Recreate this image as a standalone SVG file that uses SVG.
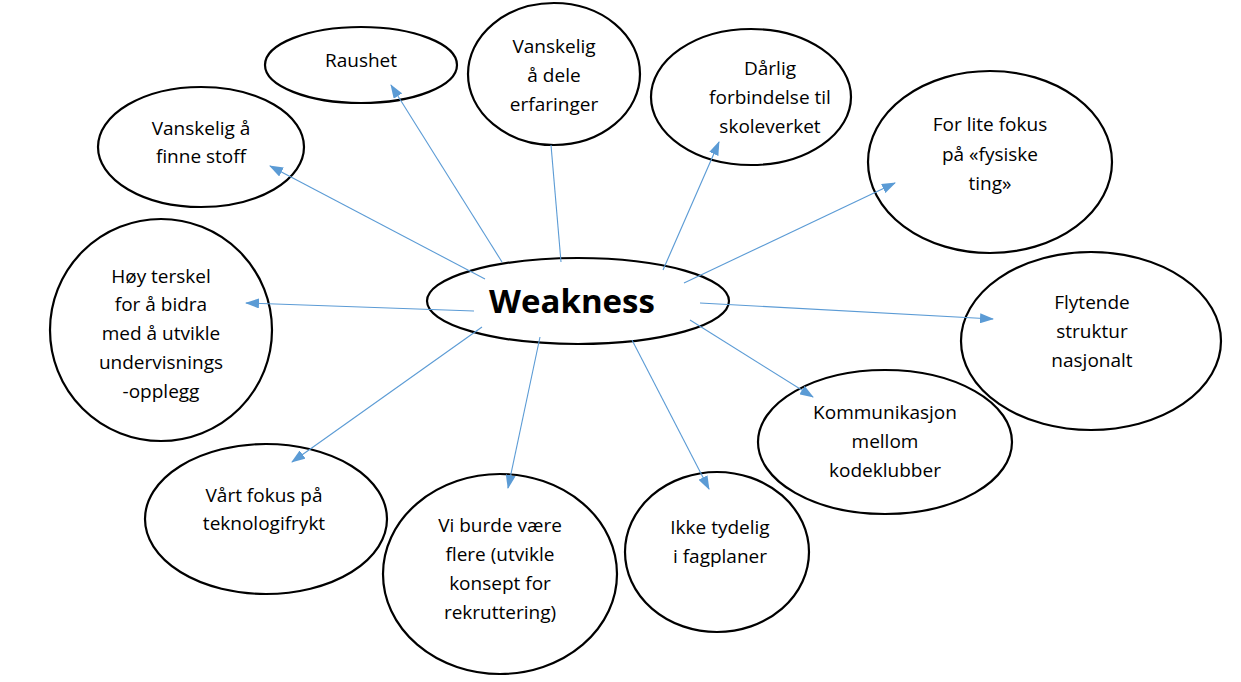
<svg xmlns="http://www.w3.org/2000/svg" width="1241" height="682" viewBox="0 0 1241 682">
<defs>
<style>
.n{fill:#fff;stroke:#000;stroke-width:2.2}
.t{font-family:"Open Sans","Liberation Sans",sans-serif;font-size:19px;fill:#000;text-anchor:middle}
.w{font-family:"Open Sans","Liberation Sans",sans-serif;font-size:33px;font-weight:bold;fill:#000;text-anchor:middle}
.c{stroke:#5B9BD5;stroke-width:1.1;fill:none}
</style>
<marker id="ah" viewBox="0 0 14 10" refX="13" refY="5" markerWidth="14" markerHeight="10" markerUnits="userSpaceOnUse" orient="auto">
<path d="M0,0 L14,5 L0,10 z" fill="#5B9BD5"/>
</marker>
</defs>
<rect width="1241" height="682" fill="#fff"/>
<g id="n-raushet"><ellipse class="n" cx="361" cy="65" rx="96" ry="38"/><text class="t" x="361" y="67">Raushet</text></g>
<g id="n-dele"><ellipse class="n" cx="554" cy="74" rx="86" ry="71"/><text class="t"><tspan x="554" y="53">Vanskelig</tspan><tspan x="554" y="82">å dele</tspan><tspan x="554" y="111">erfaringer</tspan></text></g>
<g id="n-darlig"><ellipse class="n" cx="751" cy="97" rx="100" ry="68"/><text class="t"><tspan x="770" y="75">Dårlig</tspan><tspan x="770" y="104">forbindelse til</tspan><tspan x="770" y="133">skoleverket</tspan></text></g>
<g id="n-fokus"><ellipse class="n" cx="990" cy="162" rx="122" ry="91"/><text class="t"><tspan x="990" y="131">For lite fokus</tspan><tspan x="990" y="161">på «fysiske</tspan><tspan x="990" y="190">ting»</tspan></text></g>
<g id="n-flytende"><ellipse class="n" cx="1091" cy="341" rx="130" ry="89"/><text class="t"><tspan x="1092" y="309">Flytende</tspan><tspan x="1092" y="338">struktur</tspan><tspan x="1092" y="367">nasjonalt</tspan></text></g>
<g id="n-komm"><ellipse class="n" cx="885" cy="442" rx="127" ry="72"/><text class="t"><tspan x="885" y="419">Kommunikasjon</tspan><tspan x="885" y="448">mellom</tspan><tspan x="885" y="477">kodeklubber</tspan></text></g>
<g id="n-ikke"><ellipse class="n" cx="717" cy="552" rx="92" ry="80"/><text class="t"><tspan x="720" y="534">Ikke tydelig</tspan><tspan x="720" y="563">i fagplaner</tspan></text></g>
<g id="n-viburde"><ellipse class="n" cx="500" cy="574" rx="117" ry="100"/><text class="t"><tspan x="500" y="532">Vi burde være</tspan><tspan x="500" y="561">flere (utvikle</tspan><tspan x="500" y="590">konsept for</tspan><tspan x="500" y="619">rekruttering)</tspan></text></g>
<g id="n-vart"><ellipse class="n" cx="266" cy="519" rx="121" ry="75"/><text class="t"><tspan x="264" y="502">Vårt fokus på</tspan><tspan x="264" y="530">teknologifrykt</tspan></text></g>
<g id="n-hoy"><ellipse class="n" cx="161" cy="330" rx="111" ry="111"/><text class="t"><tspan x="161" y="283">Høy terskel</tspan><tspan x="161" y="311">for å bidra</tspan><tspan x="161" y="340">med å utvikle</tspan><tspan x="161" y="369">undervisnings</tspan><tspan x="161" y="398">-opplegg</tspan></text></g>
<g id="n-finne"><ellipse class="n" cx="201" cy="147" rx="103" ry="60"/><text class="t"><tspan x="201" y="135">Vanskelig å</tspan><tspan x="201" y="163">finne stoff</tspan></text></g>
<g id="n-weakness"><ellipse class="n" cx="578" cy="301" rx="151" ry="43"/><text class="w" x="572" y="313">Weakness</text></g>
<g id="connectors">
<line class="c" x1="502" y1="262" x2="391" y2="85" marker-end="url(#ah)"/>
<line class="c" x1="561" y1="262" x2="551" y2="145"/>
<line class="c" x1="663" y1="270" x2="719" y2="142" marker-end="url(#ah)"/>
<line class="c" x1="684" y1="283" x2="895" y2="183" marker-end="url(#ah)"/>
<line class="c" x1="700" y1="303" x2="993" y2="319" marker-end="url(#ah)"/>
<line class="c" x1="690" y1="320" x2="813" y2="397" marker-end="url(#ah)"/>
<line class="c" x1="632" y1="340" x2="709" y2="489" marker-end="url(#ah)"/>
<line class="c" x1="540" y1="337" x2="508" y2="488" marker-end="url(#ah)"/>
<line class="c" x1="482" y1="327" x2="292" y2="462" marker-end="url(#ah)"/>
<line class="c" x1="474" y1="311" x2="246" y2="303" marker-end="url(#ah)"/>
<line class="c" x1="485" y1="279" x2="270" y2="166" marker-end="url(#ah)"/>
</g>
</svg>
